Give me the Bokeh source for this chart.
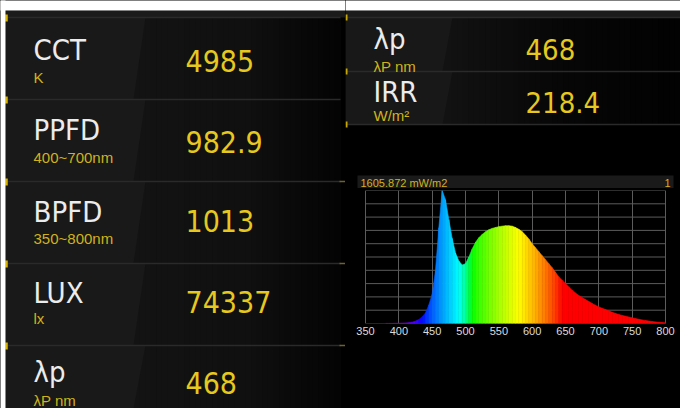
import numpy as np
from bokeh.plotting import figure
from bokeh.layouts import row, column
from bokeh.models import Range1d, FixedTicker, Label
from bokeh.core.properties import value
from bokeh.embed import file_html
from bokeh.resources import INLINE

# ---------------- data ----------------
left_labels = ["CCT", "PPFD", "BPFD", "LUX", "λp"]
left_units = ["K", "400~700nm", "350~800nm", "lx", "λP  nm"]
left_values = ["4985", "982.9", "1013", "74337", "468"]

right_labels = ["λp", "IRR"]
right_units = ["λP  nm", "W/m²"]
right_values = ["468", "218.4"]

spectrum_total = "1605.872 mW/m2"
spectrum_scale = "1"
wavelength_ticks = [350, 400, 450, 500, 550, 600, 650, 700, 750, 800]
level_ticks = [0.0, 0.1, 0.2, 0.3, 0.4, 0.5, 0.6, 0.7, 0.8, 0.9, 1.0]

wavelengths = list(range(350, 805, 5))
irradiance = [
    0.000, 0.000, 0.000, 0.000, 0.000, 0.000, 0.001, 0.001, 0.001, 0.002,  # 350-395
    0.002, 0.003, 0.004, 0.006, 0.010, 0.018, 0.030, 0.050, 0.080, 0.140,  # 400-445
    0.220, 0.400, 0.720, 1.000, 0.930, 0.780, 0.640, 0.530, 0.470, 0.440,  # 450-495
    0.450, 0.500, 0.560, 0.610, 0.645, 0.670, 0.690, 0.705, 0.715, 0.722,  # 500-545
    0.728, 0.732, 0.735, 0.735, 0.732, 0.722, 0.708, 0.690, 0.665, 0.635,  # 550-595
    0.600, 0.570, 0.540, 0.510, 0.480, 0.450, 0.420, 0.385, 0.350, 0.325,  # 600-645
    0.300, 0.275, 0.250, 0.230, 0.210, 0.195, 0.180, 0.165, 0.150, 0.137,  # 650-695
    0.125, 0.115, 0.105, 0.095, 0.085, 0.076, 0.068, 0.061, 0.055, 0.049,  # 700-745
    0.043, 0.037, 0.032, 0.027, 0.023, 0.019, 0.015, 0.012, 0.009, 0.007,  # 750-795
    0.005,                                                                  # 800
]

# ---------------- style / layout ----------------
NARROW = "DejaVu Sans Condensed, Noto Sans Condensed, Roboto Condensed, DejaVu Sans"
REG = "Liberation Sans"
WHITE = "#ececec"
YEL = "#e6c81e"
YEL2 = "#d2b21c"
SEP = "#2a2a2a"
GRID = "#5c5c5c"
BLACK_BG = {"background-color": "#000000"}

left_seps = [17, 99, 181, 263, 345]
left_row_bottoms = [99, 181, 263, 345, 408]
left_label_mid = [49.5, 129, 211, 292.5, 371]
left_unit_mid = [76.5, 157, 237.5, 318, 400]
left_value_mid = [60, 141, 220.5, 301.5, 382.5]

right_seps = [17, 71, 124]
right_label_mid = [38.5, 91]
right_unit_mid = [66, 115]
right_value_mid = [49, 101.5]

# spectrum frame inside its 335 px wide panel: 20 px left margin, 15 px right margin
SPEC_W = 335
SPEC_PAD_L, SPEC_PAD_R = 20, 15


def base_fig(w, h, xr, yr):
    f = figure(width=w, height=h, x_range=xr, y_range=yr, output_backend="svg",
               toolbar_location=None, min_border=0, x_axis_location=None,
               y_axis_location=None, styles=BLACK_BG)
    f.grid.visible = False
    f.outline_line_color = None
    f.background_fill_color = "#000000"
    f.border_fill_color = "#000000"
    return f


def hgrad(f, x0, x1, y0, y1, stops, n=60):
    xs = np.linspace(x0, x1, n + 1)
    sx = [s[0] for s in stops]
    sv = [s[1] for s in stops]
    mids = (xs[:-1] + xs[1:]) / 2
    g = np.interp(mids, sx, sv).astype(int)
    cols = ["#%02x%02x%02x" % (v, v, v) for v in g]
    f.quad(left=xs[:-1], right=xs[1:] + 0.6, top=[y0] * n, bottom=[y1] * n,
           fill_color=cols, line_color=None)


def sheen(f, tops, bottoms, x_left, e_top, e_bot, color):
    # slanted lighter band (screen glare) for each panel row
    xs = [[x_left, e_top, e_bot, x_left] for _ in tops]
    ys = [[t, t, b, b] for t, b in zip(tops, bottoms)]
    f.patches(xs=xs, ys=ys, fill_color=color, line_color=None)


def wl_rgb(w):
    if w < 380:
        r, g, b = 0.45, 0.0, 0.75
    elif w < 435:
        r, g, b = -(w - 435) / 55.0, 0.0, 1.0
    elif w < 490:
        r, g, b = 0.0, (w - 435) / 55.0, 1.0
    elif w < 510:
        r, g, b = 0.0, 1.0, -(w - 510) / 20.0
    elif w < 580:
        r, g, b = (w - 510) / 70.0, 1.0, 0.0
    elif w < 645:
        r, g, b = 1.0, -(w - 645) / 65.0, 0.0
    else:
        r, g, b = 1.0, 0.0, 0.0
    if w < 420:
        fac = 0.35 + 0.65 * max(0.0, (w - 380) / 40.0)
    else:
        fac = 1.0
    c = [int(round(255 * (v * fac) ** 0.8)) if v > 0 else 0 for v in (r, g, b)]
    return "#%02x%02x%02x" % tuple(c)


def txt(f, x, y, t, font, size, color, align="left"):
    f.text(x=x, y=y, text=t, text_font=value(font), text_font_size=size,
           text_color=color, text_baseline="middle", text_align=align)


# ---------------- left panel ----------------
left = base_fig(345, 408, Range1d(0, 345), Range1d(408, 0))
left.quad(left=[5], right=[346], top=[10], bottom=[17], fill_color="#1b1b1b", line_color=None)
hgrad(left, 5, 340, 17, 408, [(5, 0x14), (150, 0x13), (250, 0x10), (300, 0x09), (340, 0x04)])
sheen(left, left_seps, left_row_bottoms, 5, 145, 133, "#191919")
left.segment(x0=[5] * 5, x1=[340] * 5, y0=left_seps, y1=left_seps, line_color=SEP, line_width=1.5)
left.segment(x0=[6] * 5, x1=[6] * 5, y0=[s - 3 for s in left_seps], y1=[s + 4 for s in left_seps],
             line_color="#d9b400", line_width=2.5)
left.segment(x0=[339] * 3, x1=[345] * 3, y0=left_seps[2:], y1=left_seps[2:],
             line_color="#6e6230", line_width=1.5)
# white page edge of the screenshot
left.quad(left=[-1], right=[5], top=[-1], bottom=[409], fill_color="#ffffff", line_color=None)
left.quad(left=[-1], right=[346], top=[-1], bottom=[10], fill_color="#ffffff", line_color=None)

txt(left, [33] * 5, left_label_mid, left_labels, NARROW, "29px", WHITE)
txt(left, [33] * 5, left_unit_mid, left_units, REG, "15px", YEL2)
txt(left, [185] * 5, left_value_mid, left_values, NARROW, "30px", YEL)

# ---------------- right top panel ----------------
rtop = base_fig(335, 188, Range1d(345, 680), Range1d(188, 0))
rtop.quad(left=[344], right=[680], top=[10], bottom=[17], fill_color="#1b1b1b", line_color=None)
rtop.quad(left=[344], right=[681], top=[-1], bottom=[10], fill_color="#ffffff", line_color=None)
hgrad(rtop, 345, 680, 17, 124, [(345, 0x14), (450, 0x12), (560, 0x07), (680, 0x02)])
sheen(rtop, right_seps[:2], right_seps[1:], 345, 452, 442, "#181818")
rtop.segment(x0=[345] * 3, x1=[680] * 3, y0=right_seps, y1=right_seps, line_color=SEP, line_width=1.5)
rtop.segment(x0=[346] * 3, x1=[346] * 3, y0=[s - 3 for s in right_seps], y1=[s + 3 for s in right_seps],
             line_color="#c8a800", line_width=2)
txt(rtop, [373] * 2, right_label_mid, right_labels, NARROW, "29px", WHITE)
txt(rtop, [373] * 2, right_unit_mid, right_units, REG, "15px", YEL2)
txt(rtop, [525] * 2, right_value_mid, right_values, NARROW, "29px", YEL)
# spectrum header bar
rtop.quad(left=[357], right=[673], top=[175], bottom=[188], fill_color="#1a1a1a", line_color=None)
txt(rtop, [360], [182], [spectrum_total], REG, "11px", YEL2)
txt(rtop, [670], [182], [spectrum_scale], REG, "11px", YEL2, align="right")

# ---------------- spectrum ----------------
wl_lo, wl_hi = wavelength_ticks[0], wavelength_ticks[-1]
nm_per_px = (wl_hi - wl_lo) / (SPEC_W - SPEC_PAD_L - SPEC_PAD_R)
spec = figure(width=SPEC_W, height=162,
              x_range=Range1d(wl_lo - SPEC_PAD_L * nm_per_px, wl_hi + SPEC_PAD_R * nm_per_px),
              y_range=Range1d(0, 1),
              output_backend="svg", toolbar_location=None, y_axis_location=None,
              min_border_left=0, min_border_right=0, min_border_top=2, min_border_bottom=27,
              styles=BLACK_BG)
spec.background_fill_color = "#000000"
spec.border_fill_color = "#000000"
spec.outline_line_color = None
spec.xaxis.ticker = FixedTicker(ticks=wavelength_ticks)
spec.xaxis.axis_line_color = None
spec.xaxis.major_tick_line_color = None
spec.xaxis.minor_tick_line_color = None
spec.xaxis.major_tick_out = 0
spec.xaxis.major_label_standoff = 3
spec.xaxis.major_label_text_font = REG
spec.xaxis.major_label_text_font_size = "11px"
spec.xaxis.major_label_text_color = "#dcdcdc"
spec.xgrid.ticker = FixedTicker(ticks=wavelength_ticks)
spec.xgrid.grid_line_color = GRID
spec.xgrid.grid_line_width = 1
spec.ygrid.visible = False
# horizontal grid lines limited to the wavelength span
spec.segment(x0=[wl_lo] * len(level_ticks), x1=[wl_hi] * len(level_ticks),
             y0=level_ticks, y1=level_ticks, line_color=GRID, line_width=1)

wl = np.array(wavelengths, dtype=float)
val = np.array(irradiance, dtype=float)
xs = [[wl[i], wl[i], wl[i + 1], wl[i + 1]] for i in range(len(wl) - 1)]
ys = [[0, val[i], val[i + 1], 0] for i in range(len(wl) - 1)]
cols = [wl_rgb((wl[i] + wl[i + 1]) / 2) for i in range(len(wl) - 1)]
spec.patches(xs=xs, ys=ys, fill_color=cols, line_color=cols, line_width=0.6)
spec.add_layout(Label(x=wl_hi, y=-0.13, text="nm", text_font=REG, text_font_size="10px",
                      text_color=YEL2, text_align="center", text_baseline="middle", x_offset=-3))

# ---------------- bottom right ----------------
rbot = base_fig(335, 58, Range1d(345, 680), Range1d(408, 350))
rbot.scatter(x=[360], y=[390], size=0, alpha=0)

layout = row(left, column(rtop, spec, rbot, spacing=0, styles=BLACK_BG), spacing=0, styles=BLACK_BG)
open("out.html", "w").write(file_html(layout, INLINE))
